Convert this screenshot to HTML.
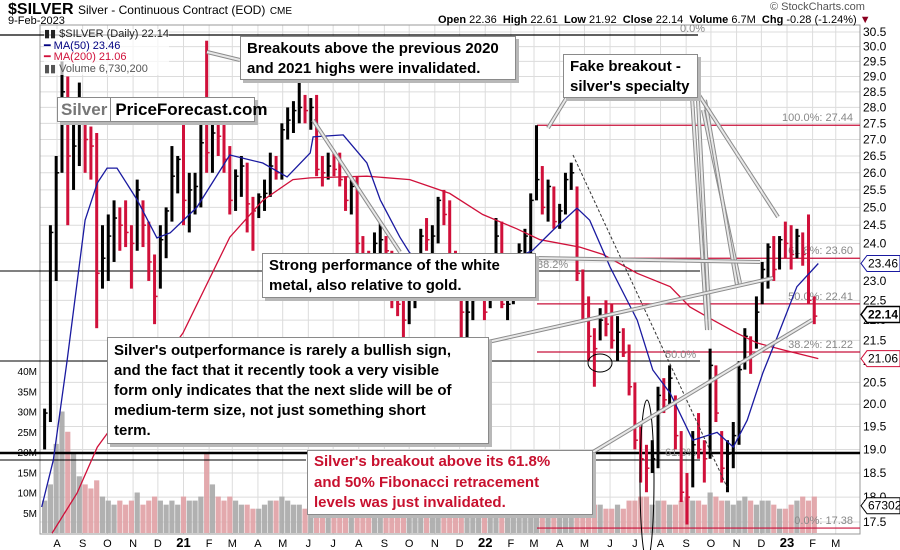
<!DOCTYPE html>
<html><head><meta charset="utf-8">
<style>
html,body{margin:0;padding:0;background:#fff;}
body{width:900px;height:550px;position:relative;overflow:hidden;font-family:"Liberation Sans",sans-serif;}
svg{position:absolute;left:0;top:0;}
.box{position:absolute;background:#fff;border:1px solid #8a8a8a;box-shadow:3px 3px 0 #b8b8b8;font-weight:bold;font-size:15px;line-height:20px;color:#000;padding:2px 6px;box-sizing:border-box;white-space:nowrap;}
.hdr{position:absolute;white-space:nowrap;}
</style></head>
<body>
<svg id="chart" width="900" height="550"></svg>

<div class="hdr" style="left:8px;top:1px;font-size:16px;"><b>$SILVER</b> <span style="font-size:12px">Silver - Continuous Contract (EOD)</span> <span style="font-size:10px">CME</span></div>
<div class="hdr" style="left:8px;top:15px;font-size:11px;">9-Feb-2023</div>
<div class="hdr" style="left:770px;top:1px;font-size:11px;color:#555;">© StockCharts.com</div>
<div class="hdr" style="left:438px;top:14px;font-size:11px;"><b>Open</b> 22.36 &nbsp;<b>High</b> 22.61 &nbsp;<b>Low</b> 21.92 &nbsp;<b>Close</b> 22.14 &nbsp;<b>Volume</b> 6.7M &nbsp;<b>Chg</b> -0.28 (-1.24%) <span style="color:#8b0020">▼</span></div>

<div class="hdr" style="left:44px;top:29px;font-size:11px;line-height:11.5px;background:rgba(255,255,255,0.7)">
<div style="color:#222">▮▮ $SILVER (Daily) 22.14</div>
<div style="color:#000080">━ MA(50) 23.46</div>
<div style="color:#d0103a">━ MA(200) 21.06</div>
<div style="color:#555">▮▮ Volume 6,730,200</div>
</div>

<div class="box" style="left:57px;top:97px;width:198px;height:25px;padding:0;font-size:17px;line-height:23px;">
<span style="display:inline-block;color:#777;padding:0 3px;border-right:1px solid #8a8a8a">Silver</span><span style="padding-left:4px">PriceForecast.com</span></div>

<div class="box" style="left:240px;top:36px;width:276px;height:44px;">Breakouts above the previous 2020<br>and 2021 highs were invalidated.</div>
<div class="box" style="left:563px;top:54px;width:135px;height:44px;">Fake breakout -<br>silver's specialty</div>
<div class="box" style="left:262px;top:253px;width:274px;height:45px;">Strong performance of the white<br>metal, also relative to gold.</div>
<div class="box" style="left:107px;top:337px;width:382px;height:107px;padding-top:3px;">Silver's outperformance is rarely a bullish sign,<br>and the fact that it recently took a very visible<br>form only indicates that the next slide will be of<br>medium-term size, not just something short<br>term.</div>
<div class="box" style="left:307px;top:450px;width:286px;height:65px;color:#c8102e;padding-top:1px;line-height:20.5px;">Silver's breakout above its 61.8%<br>and 50% Fibonacci retracement<br>levels was just invalidated.</div>

<script>
// ---- data (weekly, starting week of 17-Jul-2020) ----
const weekHigh = [19.9,24.5,26.5,29.5,29.0,28.0,28.8,28.2,27.4,27.2,24.5,24.8,25.2,25.0,25.2,24.5,25.8,25.2,24.6,23.7,24.5,25.0,26.8,26.5,27.8,26.0,26.0,27.5,30.2,27.6,27.8,28.3,26.8,26.1,26.5,26.3,25.3,25.4,25.8,26.6,26.5,27.5,28.0,28.2,28.8,28.4,28.3,28.4,26.5,26.6,26.6,26.6,25.9,25.8,25.9,24.2,23.8,24.3,24.6,24.2,23.8,22.9,22.6,22.7,23.3,24.4,24.7,24.5,25.3,25.5,25.2,23.8,22.8,22.6,22.9,23.4,23.2,23.4,24.7,24.6,22.7,23.3,24.0,24.4,25.4,27.44,26.2,25.8,25.6,25.1,26.0,26.3,25.6,23.3,22.6,21.8,22.3,22.5,22.4,22.1,21.8,21.4,20.5,19.5,19.1,19.2,20.4,20.6,20.9,20.2,19.4,18.5,19.4,19.8,19.2,21.3,20.9,19.4,19.2,19.6,21.0,21.8,21.6,22.6,23.5,24.0,24.2,24.2,24.6,24.5,24.4,24.3,24.8,22.6];
const weekLow = [19.0,19.6,23.0,26.0,24.5,25.5,26.2,26.0,25.8,21.8,22.8,23.0,23.5,23.8,23.9,22.8,23.8,23.9,23.0,21.9,22.8,23.6,24.6,25.4,24.5,24.3,24.8,25.0,26.0,26.0,26.5,26.0,24.8,24.9,25.3,24.3,23.8,24.7,24.9,25.3,25.8,25.8,27.0,27.2,27.5,27.5,27.3,25.9,25.6,25.8,25.9,25.6,24.9,24.8,23.7,22.5,23.0,23.2,23.6,23.6,22.3,22.1,21.4,21.9,22.3,23.1,23.8,23.4,24.0,24.5,23.2,22.6,21.4,21.4,22.0,22.6,22.0,22.3,23.3,22.3,22.0,22.4,22.8,23.5,23.7,25.2,24.8,24.6,24.4,24.4,24.8,25.5,23.0,22.0,21.0,20.4,21.5,21.6,21.3,21.0,21.1,20.2,19.0,18.3,18.1,18.5,18.6,19.8,20.0,19.0,17.9,17.45,18.2,18.8,18.3,18.8,19.6,18.3,18.1,18.6,19.1,20.8,20.7,21.3,22.4,22.8,23.0,23.3,23.6,23.3,23.6,23.4,22.4,21.9];
const weekClose = [19.8,24.3,26.0,28.5,26.5,26.8,27.6,27.0,26.8,23.2,23.6,24.2,24.7,24.5,24.3,24.0,25.5,24.5,23.5,22.6,24.1,24.9,25.9,26.4,25.2,25.5,25.6,26.9,26.6,27.2,27.1,26.4,25.2,25.9,26.2,25.1,24.9,25.3,25.4,26.2,26.0,27.3,27.6,27.9,28.0,27.9,28.0,26.1,26.0,26.2,26.1,25.8,25.2,25.6,24.0,23.4,23.3,24.0,24.1,23.8,22.5,22.4,22.0,22.6,23.2,24.2,24.1,24.2,25.2,24.8,23.4,22.8,22.2,22.2,22.5,23.2,22.2,23.0,24.2,22.4,22.4,23.2,23.8,24.2,25.2,25.8,25.0,25.6,24.6,24.9,25.8,26.0,23.2,22.4,21.6,21.3,22.0,21.9,21.5,21.7,21.2,20.4,19.2,18.8,18.6,18.8,20.2,20.1,20.6,19.3,18.1,18.0,19.1,19.0,18.8,20.9,19.8,18.6,18.9,19.3,20.8,21.6,21.1,22.2,23.3,23.9,23.3,24.1,24.0,23.7,24.2,23.7,22.5,22.1];
const weekVolume = [8,12,22,30,25,20,14,12,11,13,9,8,7,8,7,8,10,7,8,9,8,7,8,7,9,8,8,9,20,12,9,8,9,8,7,7,6,6,7,8,8,9,8,7,7,6,7,9,7,6,6,6,6,7,8,7,6,6,6,7,8,7,9,7,6,7,6,6,7,7,8,6,7,8,6,5,5,6,7,8,7,6,6,7,8,10,8,7,6,6,7,8,9,8,8,7,7,6,6,7,6,8,8,9,9,7,8,8,7,7,8,9,8,8,7,10,9,8,8,7,8,9,8,7,8,8,7,6,6,7,8,9,8,9];
// moving averages sampled at week positions (week index relative to 24-Jul-2020)
const ma50Week = [-1.5,0.5,2.9,6.0,8.1,9.8,11.5,15.0,18.4,20.7,25.3,31.0,36.7,40.9,44.9,45.4,50.6,54.7,57.0,60.4,62.1,69.0,76.0,83.4,86.9,91.0,93.2,96.7,101.4,104.1,107.1,111.0,115.2,118.0,120.4,123.1,125.6,129.0,132.7];
const ma50Value = [17.8,18.77,21.03,24.64,25.7,26.14,26.14,25.21,24.15,24.29,25.0,26.53,26.29,25.88,26.59,27.08,27.14,26.29,25.21,24.17,23.74,23.16,23.24,23.82,24.37,24.98,24.64,23.37,22.0,20.79,20.25,19.2,19.37,19.05,19.64,20.72,21.58,22.85,23.46];
const ma200Week = [0.3,4.6,8.1,10.0,15.5,22.9,31.0,36.7,41.9,44.9,54.7,62.1,69.0,74.7,80.6,84.6,91.5,95.5,101.4,107.1,110.5,114.5,118.6,122.1,126.6,132.7];
const ma200Value = [17.28,18.08,19.05,19.38,20.3,21.68,24.17,25.2,25.8,25.85,25.9,25.8,25.4,24.8,24.4,24.1,23.9,23.7,23.2,22.85,22.33,22.0,21.68,21.44,21.27,21.06];
const priceTicks = [17.5,18.0,18.5,19.0,19.5,20.0,20.5,21.0,21.5,22.0,22.5,23.0,23.5,24.0,24.5,25.0,25.5,26.0,26.5,27.0,27.5,28.0,28.5,29.0,29.5,30.0,30.5];
const volumeTicks = [5,10,15,20,25,30,35,40];
const monthLabels = ['A','S','O','N','D','21','F','M','A','M','J','J','A','S','O','N','D','22','F','M','A','M','J','J','A','S','O','N','D','23','F','M'];
const monthWeek = [1.14,5.57,9.86,14.29,18.57,23.0,27.43,31.43,35.86,40.14,44.57,48.86,53.29,57.71,62.0,66.43,70.71,75.14,79.57,83.57,88.0,92.29,96.71,101.0,105.43,109.86,114.14,118.57,122.86,127.29,131.71,135.71];
const fibLevels = [27.44,23.60,22.41,21.22,17.38];
const fibLabels = ['100.0%: 27.44','61.8%: 23.60','50.0%: 22.41','38.2%: 21.22','0.0%: 17.38'];

// ---- axes ----
const PL=40, PR=860, PT=25, PB=534;
const X = w => 50.4 + 5.787*w;           // week index (0 = 24-Jul-2020)
const Y = p => 32 + 882*Math.log(30.5/p); // log price scale
const VY = v => 533 - 4.05*v;

const NS='http://www.w3.org/2000/svg';
const svg=document.getElementById('chart');
function mk(tag, attrs, parent){const e=document.createElementNS(NS,tag);for(const k in attrs)e.setAttribute(k,attrs[k]);(parent||svg).appendChild(e);return e;}

// clip
const defs=mk('defs',{});
const cp=mk('clipPath',{id:'plotclip'},defs);
mk('rect',{x:PL,y:PT,width:PR-PL,height:PB-PT},cp);

// grid
const grid=mk('g',{stroke:'#dcdcdc','stroke-width':1});


priceTicks.forEach(p=>{const l=mk('line',{x1:PL,x2:PR,y1:Y(p),y2:Y(p)},grid);

});
monthWeek.forEach(w=>{const l=mk('line',{x1:X(w),x2:X(w),y1:PT,y2:PB},grid);

});
const frame=mk('rect',{x:PL,y:PT,width:PR-PL,height:PB-PT,fill:'none',stroke:'#999'});



// volume
const vg=mk('g',{'clip-path':'url(#plotclip)'});


weekVolume.forEach((v,i)=>{const w=i-1;const up=i===0||weekClose[i]>=weekClose[i-1];
const r=mk('rect',{x:X(w)-2.6,y:VY(v),width:5.2,height:533-VY(v),fill:up?'#a8a8a8':'#e0a0a4',opacity:0.9},vg);

});

// fib lines
const fg=mk('g',{});


fibLevels.forEach((p,i)=>{const y=Y(p);
const l=mk('line',{x1:537,x2:PR,y1:y,y2:y,stroke:'#c8103a','stroke-width':1.2},fg);


const t=mk('text',{x:853,y:y-4,'text-anchor':'end','font-size':11,fill:'#888','font-family':'Liberation Sans, sans-serif'},fg);
t.textContent=fibLabels[i];

});

// black horizontal lines
const hl=[[0,698,35,1.2],[0,700,271,1],[0,700,361,1],[0,PR,453,2.5],[0,306,460,1],[593,700,460,1]];
hl.forEach(h=>{const l=mk('line',{x1:h[0],x2:h[1],y1:h[2],y2:h[2],stroke:'#000','stroke-width':h[3]});

});
[['0.0%',680,32],['38.2%',537,268],['50.0%',665,358],['61.8%',665,456]].forEach(a=>{const t=mk('text',{x:a[1],y:a[2],'font-size':11,fill:'#888','font-family':'Liberation Sans, sans-serif'});t.textContent=a[0];

});

// price bars
const pg=mk('g',{'clip-path':'url(#plotclip)'});


weekHigh.forEach((h,i)=>{const w=i-1;const up=i===0||weekClose[i]>=weekClose[i-1];
const r=mk('rect',{x:X(w)-1.5,y:Y(h),width:3,height:Y(weekLow[i])-Y(h),fill:up?'#000':'#d0103a'},pg);


const c=mk('line',{x1:X(w),x2:X(w)+3,y1:Y(weekClose[i]),y2:Y(weekClose[i]),stroke:up?'#000':'#d0103a','stroke-width':1.5},pg);

});

// MAs
function maPath(ws,vs,color,name){const d=ws.map((w,i)=>(i?'L':'M')+X(w).toFixed(1)+' '+Y(vs[i]).toFixed(1)).join(' ');
const p=mk('path',{d:d,fill:'none',stroke:color,'stroke-width':1.3,'clip-path':'url(#plotclip)'});

}
maPath(ma200Week,ma200Value,'#d0103a','ma200-line');
maPath(ma50Week,ma50Value,'#1a1aa0','ma50-line');

// annotations: dashed trendline, ellipses, pointer lines
const dl=mk('line',{x1:573,y1:155,x2:727,y2:487,stroke:'#333','stroke-width':1,'stroke-dasharray':'3,2'});


const e1=mk('ellipse',{cx:600,cy:363,rx:12,ry:9,fill:'none',stroke:'#000'});


const e2=mk('ellipse',{cx:647,cy:480,rx:7,ry:80,fill:'none',stroke:'#000'});


const ptr=[[240,60,207,52],[567,97,548,128],[692,97,707,330],[698,100,710,330],[703,110,740,283],[705,100,737,285],[697,92,778,217],[535,258,760,262],[313,120,400,252],[488,342,773,278],[593,452,812,320]];
ptr.forEach(a=>{const g=mk('g',{});


mk('line',{x1:a[0],y1:a[1],x2:a[2],y2:a[3],stroke:'#8c8c8c','stroke-width':4},g);
mk('line',{x1:a[0],y1:a[1],x2:a[2],y2:a[3],stroke:'#e8e8e8','stroke-width':2},g);});

// axes labels
const ax=mk('g',{'font-family':'Liberation Sans, sans-serif','font-size':12,fill:'#000'});


priceTicks.forEach(p=>{const t=mk('text',{x:863,y:Y(p)+4},ax);t.textContent=p.toFixed(1);

});
const vax=mk('g',{'font-family':'Liberation Sans, sans-serif','font-size':10,fill:'#000','text-anchor':'end'});


volumeTicks.forEach(v=>{const t=mk('text',{x:37,y:VY(v)+4},vax);t.textContent=v+'M';

});
const xax=mk('g',{'font-family':'Liberation Sans, sans-serif','font-size':11,fill:'#000','text-anchor':'middle'});


monthLabels.forEach((m,i)=>{const t=mk('text',{x:X(monthWeek[i]),y:547,'font-weight':/\d/.test(m)?'bold':'normal','font-size':/\d/.test(m)?13:11},xax);t.textContent=m;

});

// right value tags
[['23.46',Y(23.46),'#1a1aa0',false],['22.14',Y(22.14),'#000',true],['21.06',Y(21.06),'#d0103a',false],['6730200',VY(6.73),'#000',false]].forEach(a=>{
const g=mk('g',{});


mk('path',{d:`M861 ${a[1]} L867 ${a[1]-8} L900 ${a[1]-8} L900 ${a[1]+8} L867 ${a[1]+8} Z`,fill:'#fff',stroke:a[2],'stroke-width':a[3]?1.5:1},g);
const t=mk('text',{x:868,y:a[1]+4,'font-size':12,'font-weight':a[3]?'bold':'normal','font-family':'Liberation Sans, sans-serif'},g);t.textContent=a[0];});
</script>
</body></html>
